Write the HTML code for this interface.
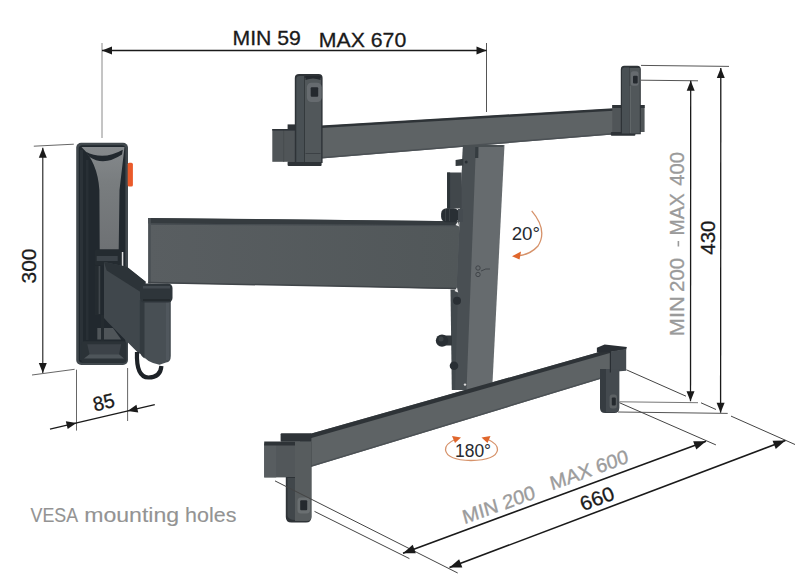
<!DOCTYPE html>
<html><head><meta charset="utf-8"><style>
html,body{margin:0;padding:0;background:#fff;}
svg{display:block;}
</style></head><body>
<svg width="807" height="585" viewBox="0 0 807 585">
<rect width="807" height="585" fill="#ffffff"/>
<polygon points="300.00,127.19 622.00,108.15 622.00,133.65 300.00,160.20" fill="#5e6365" />
<polygon points="300.00,126.69 622.00,107.65 622.00,110.15 300.00,129.19" fill="#2e3337" />
<polygon points="300.00,158.70 622.00,132.15 622.00,133.65 300.00,160.20" fill="#4c5155" />
<rect x="272.3" y="129" width="31.7" height="32.8" fill="#505558"/>
<rect x="283.3" y="129" width="0.9" height="32.8" fill="#454a4e"/>
<rect x="272.3" y="129" width="31.7" height="1.6" fill="#2e3337"/>
<rect x="287.6" y="124.4" width="16" height="4.8" fill="#2e3337"/>
<rect x="287.6" y="161.5" width="34" height="4.4" rx="1" fill="#2e3337"/>
<path d="M294.8,163 V78 Q294.8,74.1 299,74.1 H318.6 Q322.6,74.1 322.6,78 V163 Z" fill="#2e3337"/>
<path d="M296.3,162 V79 Q296.3,76 299.5,76 H304 V162 Z" fill="#495054"/>
<path d="M304.8,162 V78 H321.2 V162 Z" fill="#51575a"/>
<rect x="305.5" y="153" width="15" height="1" fill="#3c4145"/>
<rect x="306.9" y="82.8" width="14.8" height="19.2" rx="4.5" fill="#666b6f"/>
<rect x="310.7" y="87.2" width="7.5" height="9.6" rx="1" fill="#24292e"/>
<path d="M305.5,76 H320.5 V80 Q313,77 305.5,80 Z" fill="#24292e"/>
<rect x="612.3" y="105" width="32.3" height="27" fill="#505558"/>
<rect x="612.3" y="105" width="32.3" height="3" fill="#2e3337"/>
<rect x="610.8" y="131.9" width="24.6" height="3.9" rx="1" fill="#2e3337"/>
<path d="M620.8,134.2 V69.5 Q620.8,65.8 624.3,65.8 H637.3 Q640.8,65.8 640.8,69.5 V134.2 Z" fill="#2e3337"/>
<path d="M622,133.5 V70 Q622,67.5 624.3,67.5 H629 V133.5 Z" fill="#495054"/>
<path d="M629.5,133.5 V68 H639.8 V133.5 Z" fill="#51575a"/>
<rect x="629.8" y="86" width="1" height="47" fill="#646a6d"/>
<rect x="630.8" y="71.2" width="7.7" height="14.6" rx="2.5" fill="#666b6f"/>
<rect x="633" y="75.8" width="4.7" height="7.7" rx="1" fill="#24292e"/>
<defs><linearGradient id="armg" x1="0" x2="1" y1="0" y2="0"><stop offset="0" stop-color="#595e61"/><stop offset="1" stop-color="#515759"/></linearGradient></defs>
<polygon points="148.30,218.00 459.00,221.30 459.00,289.30 300.00,285.30 160.00,283.30 148.30,283.30" fill="url(#armg)" />
<polygon points="148.30,217.90 459.00,221.30 459.00,225.20 148.30,223.60" fill="#353b3f" />
<polygon points="151.00,223.60 459.00,225.20 459.00,226.20 151.00,224.80" fill="#454b50" />
<rect x="148.3" y="218" width="2.5" height="65.3" fill="#4b5155"/>
<polygon points="148.30,281.80 459.00,287.80 459.00,289.30 148.30,283.30" fill="#404549" />
<polygon points="463.00,145.00 504.50,145.00 492.30,387.00 466.50,390.00 452.00,390.00" fill="#666b6e" />
<polygon points="463.00,145.00 476.00,145.00 466.50,390.00 452.00,390.00" fill="#494f53" />
<polygon points="450.50,289.50 458.00,289.50 455.00,390.00 451.80,390.00" fill="#42494d" />
<polygon points="475.30,145.00 478.50,145.00 478.30,158.00 475.00,158.00" fill="#353c40" />
<polygon points="463.30,145.00 503.50,145.00 503.40,147.00 463.30,147.00" fill="#494f52" />
<polygon points="455.60,160.00 463.30,158.80 463.30,165.60 455.60,166.00" fill="#353b3f" />
<rect x="447.1" y="172.5" width="14.5" height="36" fill="#41474b"/>
<rect x="447.1" y="172.5" width="3" height="36" fill="#2e3539"/>
<rect x="441.1" y="208.2" width="18" height="14.1" rx="5.5" fill="#292f34"/><rect x="445" y="209" width="1" height="12" fill="#3c4246"/><rect x="449" y="209" width="1" height="12" fill="#3c4246"/>
<rect x="458" y="209" width="5" height="13" fill="#454b50"/>
<rect x="443" y="335.5" width="9" height="10" fill="#32383c"/>
<circle cx="442" cy="340.6" r="6.2" fill="#292f34"/>
<circle cx="441" cy="339" r="2.5" fill="#3c4246"/>
<circle cx="457" cy="300.8" r="4" fill="#292f34"/>
<circle cx="454" cy="365.8" r="4.3" fill="#292f34"/>
<circle cx="466.2" cy="161.9" r="1.5" fill="#292f34"/>
<path d="M455.5,225 l2.5,-3.5 l1.2,5 z" fill="#e6e6e6"/>
<path d="M454.5,291 l2.5,-3.5 l1.2,5 z" fill="#e6e6e6"/>
<circle cx="465" cy="384.6" r="1.2" fill="#dddddd"/>
<g fill="none" stroke="#3c4145" stroke-width="0.9"><circle cx="478" cy="268" r="2.2"/><circle cx="478" cy="274.5" r="2.2"/><path d="M481,271 Q486,268 490,269"/></g>
<polygon points="300.00,436.66 610.80,348.85 610.80,375.82 300.00,470.20" fill="#5e6365" />
<polygon points="300.00,436.66 610.80,348.85 610.80,352.85 300.00,441.16" fill="#2e3337" />
<polygon points="300.00,468.70 610.80,374.32 610.80,375.82 300.00,470.20" fill="#4c5155" />
<rect x="264.2" y="443.6" width="31" height="33.8" fill="#52575a"/>
<rect x="264.2" y="443.6" width="12" height="33.8" fill="#585d60"/>
<rect x="264.2" y="441.5" width="31" height="4" fill="#2e3337"/>
<rect x="280.6" y="433.3" width="30.8" height="8.5" rx="1" fill="#2e3337"/>
<path d="M285.8,477 V517 Q285.8,522.6 291.5,522.6 H306 Q311.4,522.6 311.4,517 V441.5 H295 V477 Z" fill="#2e3337"/>
<path d="M295,441.5 H311.4 V517 Q311.4,521 307,521 H295 Z" fill="#575c5e"/>
<path d="M287.5,478 H295 V520 Q289,520 287.5,516 Z" fill="#41474b"/>
<rect x="297.5" y="497.5" width="12.5" height="16" rx="3.5" fill="#6a6f71"/>
<rect x="300.2" y="500.3" width="7" height="10" rx="1" fill="#24292e"/>
<polygon points="596.90,347.70 604.60,344.60 626.90,346.90 626.20,349.50 610.80,352.00 596.90,352.50" fill="#292e33" />
<polygon points="610.80,351.50 626.20,349.00 626.20,370.80 610.80,372.00" fill="#454b50" />
<path d="M600,369 V408 Q600,413 605,413 H614.5 Q619.2,413 619.2,408 V369 Z" fill="#363c41"/>
<path d="M606,369 H619.2 V408 Q619.2,412 615,412 H606 Z" fill="#444a4f"/>
<rect x="609.6" y="394.6" width="7.3" height="13.9" rx="2.5" fill="#5c6164"/>
<rect x="611.8" y="397.5" width="4" height="8" rx="1" fill="#24292e"/>
<rect x="609.8" y="351.5" width="1.2" height="21" fill="#292e33"/>
<rect x="76.2" y="142.8" width="51.8" height="222.2" rx="5" fill="#41484d"/>
<rect x="78.8" y="145.3" width="46.6" height="217.4" rx="3.5" fill="#21282e"/>
<rect x="86" y="160" width="2.5" height="180" fill="#282f35"/>
<defs><linearGradient id="lcg" x1="0" x2="0" y1="0" y2="1"><stop offset="0" stop-color="#85898c"/><stop offset="0.35" stop-color="#797d7f"/><stop offset="1" stop-color="#6e7174"/></linearGradient></defs>
<path d="M81.5,147 L124.5,147 L119.5,190 L118.7,249.6 L99.7,249.6 L99.4,190 Q97.5,162 81.5,147 Z" fill="url(#lcg)"/>
<path d="M85.5,151.5 Q103,161 122.8,149.8 L122,154.5 Q104,166.5 89.5,157 Z" fill="#21282e"/>
<rect x="80" y="150" width="3" height="210" fill="#2b3238"/>
<rect x="127.7" y="162.8" width="5.2" height="23.7" rx="1.5" fill="#ea5a2a"/>
<rect x="94.6" y="249.5" width="27" height="16" rx="2" fill="#242b30"/>
<rect x="96.7" y="256" width="21" height="5" fill="#3c4349"/>
<rect x="121.8" y="252" width="1.5" height="15" fill="#e0e0e0"/>
<rect x="95" y="265.8" width="5.4" height="49.2" fill="#242b30"/>
<rect x="98.6" y="266" width="1.6" height="48" fill="#40464b"/>
<polygon points="97.3,328 113,328 121.2,339.6 97.3,339.6" fill="#4f5559"/>
<rect x="101" y="315" width="3" height="26" fill="#242b30"/>
<rect x="81.2" y="341.2" width="45.4" height="21.5" rx="3" fill="#2b3237"/>
<polygon points="87.3,344.3 121.2,344.3 119,354.3 89.5,354.3" fill="#3c4248"/>
<polygon points="84,358.5 89.5,354.3 119,354.3 124,358.5" fill="#4e555a"/>
<polygon points="104.00,262.00 126.80,266.70 145.70,281.80 145.70,300.00 141.00,302.00 141.00,353.50 138.80,353.50 108.10,322.50 104.00,318.00" fill="#40474c" />
<polygon points="104.00,262.00 126.80,266.70 145.70,281.80 140.20,291.80 106.70,270.60" fill="#2c3338" />
<path d="M137,352 Q136,377.5 148.5,377.5 Q160.5,377.5 161.4,366" fill="none" stroke="#1d2227" stroke-width="4.2"/>
<path d="M139.7,300 H170.8 V356 Q170.8,362 166,362.5 L159.5,364.8 Q147,363 139.7,352.6 Z" fill="#484f54"/>
<path d="M139.7,300 H144.5 V358.5 Q141,356 139.7,352.6 Z" fill="#333a3f"/>
<rect x="166" y="302" width="3" height="58" fill="#50575d"/>
<rect x="140" y="283.5" width="32.5" height="19" rx="4.5" fill="#2e353a"/>
<rect x="143" y="286" width="27" height="2.5" fill="#42494f"/>
<rect x="143" y="299" width="27" height="2" fill="#242a2e"/>
<line x1="102" y1="43" x2="102" y2="138" stroke="#8a8a8a" stroke-width="1"/>
<line x1="486.5" y1="43" x2="486.5" y2="112" stroke="#555" stroke-width="1"/>
<line x1="102" y1="50.5" x2="486.5" y2="50.5" stroke="#1a1a1a" stroke-width="1.3"/><polygon points="102.00,50.50 112.00,46.50 112.00,54.50" fill="#1a1a1a"/><polygon points="486.50,50.50 476.50,54.50 476.50,46.50" fill="#1a1a1a"/>
<text transform="translate(267.05,38.20) rotate(0.00)" x="-34.59" y="7.04" font-size="20.4" textLength="68.45" lengthAdjust="spacingAndGlyphs" font-family="Liberation Sans, sans-serif" fill="#1a1a1a" stroke="#1a1a1a" stroke-width="0.3">MIN 59</text>
<text transform="translate(362.95,39.50) rotate(0.00)" x="-44.19" y="7.11" font-size="20.6" textLength="87.48" lengthAdjust="spacingAndGlyphs" font-family="Liberation Sans, sans-serif" fill="#1a1a1a" stroke="#1a1a1a" stroke-width="0.3">MAX 670</text>
<line x1="641" y1="65.4" x2="729" y2="66.4" stroke="#555" stroke-width="1"/>
<line x1="641" y1="80.2" x2="698" y2="80.8" stroke="#555" stroke-width="1"/>
<line x1="690.7" y1="80.8" x2="690.5" y2="401.3" stroke="#1a1a1a" stroke-width="1.3"/><polygon points="690.70,80.80 694.69,90.80 686.69,90.80" fill="#1a1a1a"/><polygon points="690.50,401.30 686.51,391.30 694.51,391.30" fill="#1a1a1a"/>
<line x1="720.8" y1="68" x2="720.6" y2="412.7" stroke="#1a1a1a" stroke-width="1.3"/><polygon points="720.80,68.00 724.79,78.00 716.79,78.00" fill="#1a1a1a"/><polygon points="720.60,412.70 716.61,402.70 724.61,402.70" fill="#1a1a1a"/>
<line x1="619.4" y1="401.8" x2="698" y2="402.7" stroke="#777" stroke-width="1"/>
<line x1="618" y1="412" x2="727.7" y2="413.4" stroke="#555" stroke-width="1"/>
<text transform="translate(676.75,316.20) rotate(-90.00)" x="-19.99" y="7.07" font-size="20.5" textLength="39.97" lengthAdjust="spacingAndGlyphs" font-family="Liberation Sans, sans-serif" fill="#9a9a9a" stroke="#9a9a9a" stroke-width="0.3">MIN</text>
<text transform="translate(676.75,274.80) rotate(-90.00)" x="-17.23" y="7.15" font-size="20.5" textLength="34.23" lengthAdjust="spacingAndGlyphs" font-family="Liberation Sans, sans-serif" fill="#9a9a9a" stroke="#9a9a9a" stroke-width="0.3">200</text>
<rect x="677.6" y="241" width="1.6" height="5.5" fill="#9a9a9a"/>
<text transform="translate(676.75,213.80) rotate(-90.00)" x="-21.70" y="7.07" font-size="20.5" textLength="42.21" lengthAdjust="spacingAndGlyphs" font-family="Liberation Sans, sans-serif" fill="#9a9a9a" stroke="#9a9a9a" stroke-width="0.3">MAX</text>
<text transform="translate(676.75,168.95) rotate(-90.00)" x="-16.71" y="7.15" font-size="20.5" textLength="33.75" lengthAdjust="spacingAndGlyphs" font-family="Liberation Sans, sans-serif" fill="#9a9a9a" stroke="#9a9a9a" stroke-width="0.3">400</text>
<text transform="translate(707.90,237.75) rotate(-90.00)" x="-16.92" y="7.19" font-size="20.6" textLength="34.17" lengthAdjust="spacingAndGlyphs" font-family="Liberation Sans, sans-serif" fill="#1a1a1a" stroke="#1a1a1a" stroke-width="0.3">430</text>
<line x1="626.4" y1="369.8" x2="686" y2="396.2" stroke="#444" stroke-width="1"/>
<line x1="701" y1="402.8" x2="716" y2="409.5" stroke="#444" stroke-width="1"/>
<line x1="731" y1="416.1" x2="795" y2="444.5" stroke="#444" stroke-width="1"/>
<line x1="619.4" y1="402.7" x2="715.9" y2="444.9" stroke="#444" stroke-width="1"/>
<line x1="275" y1="480.9" x2="457.7" y2="573" stroke="#444" stroke-width="1"/>
<line x1="314.5" y1="511.4" x2="409.4" y2="558.6" stroke="#444" stroke-width="1"/>
<line x1="403" y1="553.2" x2="706" y2="441.2" stroke="#1a1a1a" stroke-width="1.6"/><polygon points="403.00,553.20 412.70,544.82 415.82,553.26" fill="#1a1a1a"/><polygon points="706.00,441.20 696.30,449.58 693.18,441.14" fill="#1a1a1a"/>
<line x1="449.5" y1="567.6" x2="785.4" y2="440.6" stroke="#1a1a1a" stroke-width="1.6"/><polygon points="449.50,567.60 459.13,559.15 462.32,567.57" fill="#1a1a1a"/><polygon points="785.40,440.60 775.77,449.05 772.58,440.63" fill="#1a1a1a"/>
<text transform="translate(466.10,523.70) rotate(-20.00) skewX(-5)" x="-1.66" y="0" font-size="19.5" textLength="76.45" lengthAdjust="spacingAndGlyphs" font-family="Liberation Sans, sans-serif" fill="#9c9c9c" stroke="#9c9c9c" stroke-width="0.35">MIN 200</text>
<text transform="translate(553.50,489.90) rotate(-20.00) skewX(-5)" x="-1.64" y="0" font-size="19.5" textLength="82.43" lengthAdjust="spacingAndGlyphs" font-family="Liberation Sans, sans-serif" fill="#9c9c9c" stroke="#9c9c9c" stroke-width="0.35">MAX 600</text>
<text transform="translate(597.10,498.50) rotate(-20.50)" x="-17.56" y="6.98" font-size="20" textLength="34.88" lengthAdjust="spacingAndGlyphs" font-family="Liberation Sans, sans-serif" fill="#1a1a1a" stroke="#1a1a1a" stroke-width="0.3">660</text>
<line x1="33.8" y1="146.2" x2="73.8" y2="144.2" stroke="#555" stroke-width="0.9"/>
<line x1="32" y1="375" x2="74.6" y2="369.3" stroke="#555" stroke-width="0.9"/>
<line x1="42.8" y1="147.7" x2="42.8" y2="372.9" stroke="#1a1a1a" stroke-width="1.1"/><polygon points="42.80,147.70 46.80,157.70 38.80,157.70" fill="#1a1a1a"/><polygon points="42.80,372.90 38.80,362.90 46.80,362.90" fill="#1a1a1a"/>
<text transform="translate(28.65,266.05) rotate(-90.00)" x="-17.45" y="7.15" font-size="20.5" textLength="34.91" lengthAdjust="spacingAndGlyphs" font-family="Liberation Sans, sans-serif" fill="#1a1a1a" stroke="#1a1a1a" stroke-width="0.3">300</text>
<line x1="76.5" y1="369.7" x2="76.5" y2="430.6" stroke="#555" stroke-width="0.9"/>
<line x1="127.6" y1="368" x2="127.6" y2="421" stroke="#555" stroke-width="0.9"/>
<line x1="50" y1="429.1" x2="154.8" y2="404.6" stroke="#1a1a1a" stroke-width="1.3"/>
<polygon points="76.50,422.90 67.67,429.07 65.85,421.28" fill="#1a1a1a"/>
<polygon points="127.60,410.90 136.44,404.75 138.24,412.54" fill="#1a1a1a"/>
<text transform="translate(103.60,402.20) rotate(-13.20)" x="-10.85" y="6.98" font-size="20" textLength="21.66" lengthAdjust="spacingAndGlyphs" font-family="Liberation Sans, sans-serif" fill="#1a1a1a" stroke="#1a1a1a" stroke-width="0.3">85</text>
<text transform="translate(30.70,522.10) rotate(0.00)" x="-0.08" y="0" font-size="19.8" textLength="47.51" lengthAdjust="spacingAndGlyphs" font-family="Liberation Sans, sans-serif" fill="#939393" stroke="#939393" stroke-width="0.12">VESA</text>
<text transform="translate(85.70,522.10) rotate(0.00)" x="-1.53" y="0" font-size="19.8" textLength="95.02" lengthAdjust="spacingAndGlyphs" font-family="Liberation Sans, sans-serif" fill="#939393" stroke="#939393" stroke-width="0.12">mounting</text>
<text transform="translate(186.60,522.10) rotate(0.00)" x="-1.49" y="0" font-size="19.8" textLength="51.26" lengthAdjust="spacingAndGlyphs" font-family="Liberation Sans, sans-serif" fill="#939393" stroke="#939393" stroke-width="0.12">holes</text>
<text transform="translate(525.75,232.90) rotate(0.00)" x="-14.09" y="6.60" font-size="18.9" textLength="28.37" lengthAdjust="spacingAndGlyphs" font-family="Liberation Sans, sans-serif" fill="#262a30" stroke="none">20°</text>
<path d="M531.7,210.8 Q548,230 538,246 Q530,255 517,256" fill="none" stroke="#d6926a" stroke-width="1.3"/>
<polygon points="512,256.3 521,251.5 519.5,259.5" fill="#e0662c"/>
<text transform="translate(473.15,450.00) rotate(0.00)" x="-18.18" y="6.70" font-size="19.2" textLength="36.08" lengthAdjust="spacingAndGlyphs" font-family="Liberation Sans, sans-serif" fill="#262a30" stroke="none">180°</text>
<path d="M455,439.5 Q445,444 445.5,450 Q447,460 471,460.5 Q496,460 497.5,450 Q498,444 488,439.5" fill="none" stroke="#d6926a" stroke-width="1.3"/>
<polygon points="461,437.5 452,436 455,443" fill="#e0662c"/>
<polygon points="481.5,437.5 490.5,436 487.5,443" fill="#e0662c"/>
</svg></body></html>
